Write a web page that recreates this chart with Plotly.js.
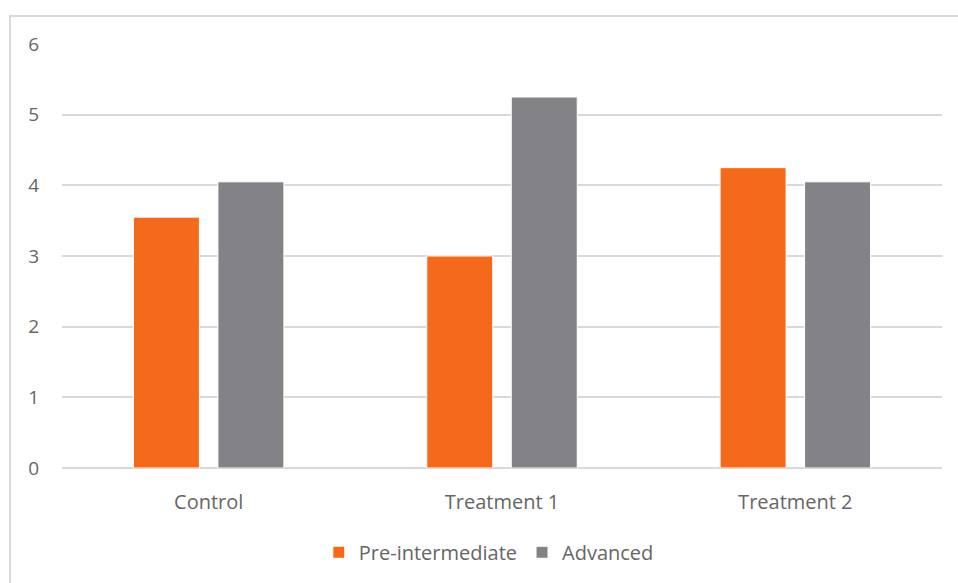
<!DOCTYPE html>
<html>
<head>
<meta charset="utf-8">
<script src="https://cdn.plot.ly/plotly-3.0.1.min.js"></script>
<style>
  html, body { margin: 0; padding: 0; background: #ffffff; }
  #frame {
    position: absolute; left: 9px; top: 15px; width: 960px; height: 580px;
    border-left: 2px solid #d9d9d9; border-top: 2px solid #d9d9d9;
  }
  #chart { position: absolute; left: 0; top: 0; width: 958px; height: 583px; }
</style>
</head>
<body>
<div id="frame"></div>
<div id="chart"></div>
<script>
// Group labels and the two series of scores
const categories = ["Control", "Treatment 1", "Treatment 2"];
const preIntermediate = [3.55, 3.0, 4.25];
const advanced = [4.05, 5.25, 4.05];
const yTicks = [0, 1, 2, 3, 4, 5, 6];

const fontFamily = '"Open Sans", "Noto Sans", sans-serif';
const textColor = "#666666";

const traces = [
  {
    type: "bar",
    name: "Pre-intermediate",
    x: categories,
    y: preIntermediate,
    marker: { color: "#F4691A", line: { color: "#ffffff", width: 1 } },
    hoverinfo: "x+y+name"
  },
  {
    type: "bar",
    name: "Advanced",
    x: categories,
    y: advanced,
    marker: { color: "#838287", line: { color: "#ffffff", width: 1 } },
    hoverinfo: "x+y+name"
  }
];

const layout = {
  width: 958,
  height: 583,
  margin: { l: 62, r: 16, t: 44, b: 114 },
  paper_bgcolor: "rgba(0,0,0,0)",
  plot_bgcolor: "rgba(0,0,0,0)",
  barmode: "group",
  bargap: 0.424,
  bargroupgap: 0.219,
  font: { family: fontFamily, color: textColor, size: 20 },
  xaxis: {
    showgrid: false,
    showline: false,
    zeroline: false,
    ticks: "",
    tickfont: { size: 20, color: textColor },
    ticklabelstandoff: 20
  },
  yaxis: {
    range: [0, 6],
    tickvals: yTicks,
    ticktext: yTicks.map(String),
    showgrid: true,
    gridcolor: "#d9d9d9",
    gridwidth: 2,
    zeroline: true,
    zerolinecolor: "#d9d9d9",
    zerolinewidth: 2,
    showline: false,
    ticks: "",
    tickfont: { size: 19, color: textColor },
    ticklabelstandoff: 22
  },
  showlegend: true,
  legend: {
    orientation: "h",
    x: 0.485,
    xanchor: "center",
    y: -0.15,
    yanchor: "top",
    font: { size: 20, color: textColor },
    itemwidth: 30,
    traceorder: "normal"
  }
};

Plotly.newPlot("chart", traces, layout, { displayModeBar: false, staticPlot: true });
</script>
</body>
</html>
